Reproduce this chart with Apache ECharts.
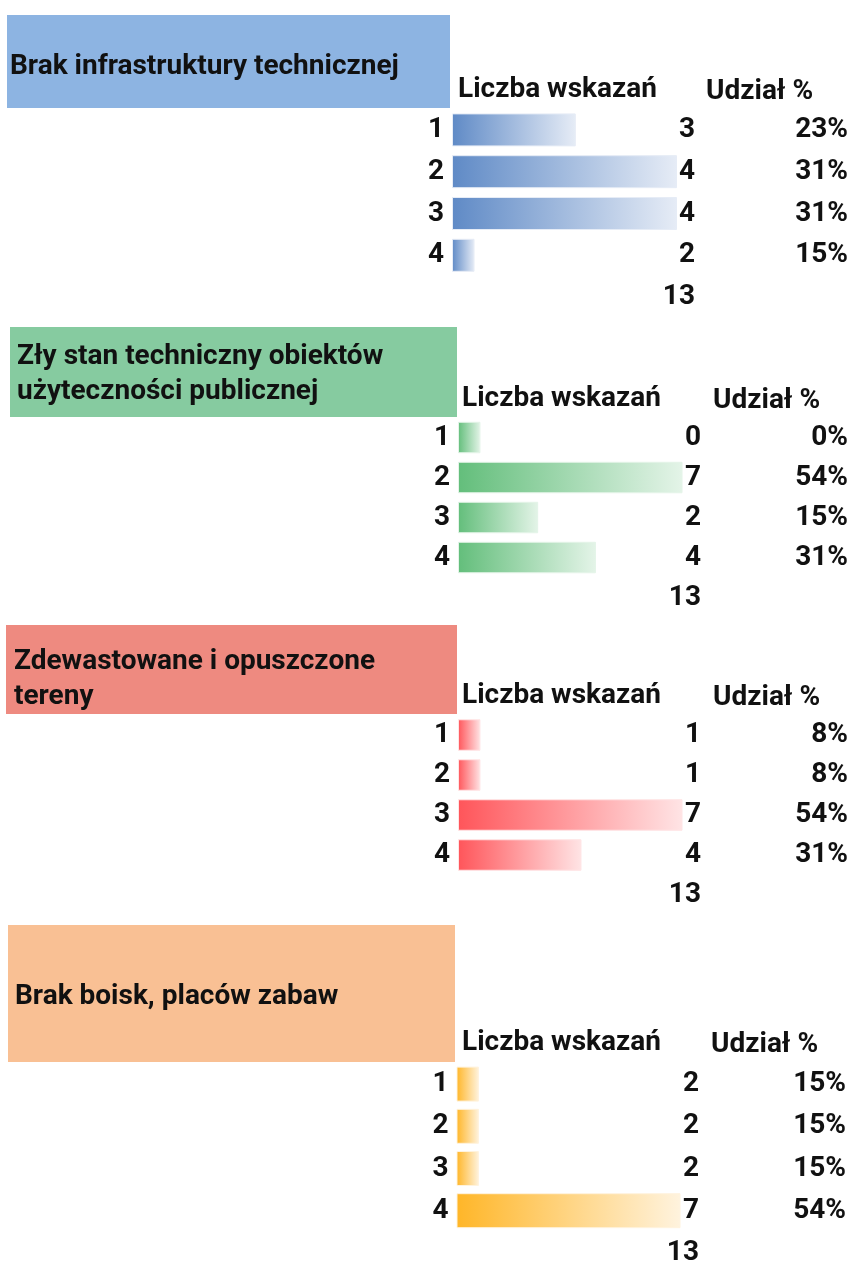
<!DOCTYPE html>
<html>
<head>
<meta charset="utf-8">
<script src="https://cdn.jsdelivr.net/npm/echarts@6/dist/echarts.min.js"></script>
<style>
  html, body { margin: 0; background: #fff; }
  #chart { width: 851px; height: 1274px; }
</style>
</head>
<body>
<div id="chart"></div>
<script>
const rows = ['1', '2', '3', '4']
const titles = [
  'Brak infrastruktury technicznej',
  'Zły stan techniczny obiektów\nużyteczności publicznej',
  'Zdewastowane i opuszczone\ntereny',
  'Brak boisk, placów zabaw'
]
const countHeader = 'Liczba wskazań'
const shareHeader = 'Udział %'
const countsInfra = [3, 4, 4, 2]
const countsBuildings = [0, 7, 2, 4]
const countsDevastated = [1, 1, 7, 4]
const countsPlaygrounds = [2, 2, 2, 7]
const allCounts = [countsInfra, countsBuildings, countsDevastated, countsPlaygrounds]

const font = 'Roboto'
const fontSize = 28

// layout of each block (header box, rows, columns)
const panels = [
  { box: [7, 15, 443, 93], fill: '#8DB4E2', bar: '#5F8AC6', end: '#E6ECF6', titleX: 10, titleY: 67,
    headY: 90, countX: 458, shareX: 706, left: 452, top: 109, rowH: 41.8, barH: 33, len: 225, numRight: 695, pctRight: 848 },
  { box: [10, 327, 447, 90], fill: '#86CBA0', bar: '#63BE7B', end: '#E4F4E8', titleX: 17, titleY: 374.5,
    headY: 399, countX: 462, shareX: 713, left: 458, top: 417.5, rowH: 40, barH: 31.5, len: 224.5, numRight: 701, pctRight: 848 },
  { box: [6, 625, 451, 89], fill: '#EE8A80', bar: '#FF555A', end: '#FFE4E5', titleX: 14, titleY: 679.5,
    headY: 696, countX: 462, shareX: 713, left: 458, top: 715, rowH: 40, barH: 31.5, len: 224.5, numRight: 701, pctRight: 848 },
  { box: [8, 925, 447, 137], fill: '#F9C094', bar: '#FFB628', end: '#FFF3DE', titleX: 15, titleY: 997,
    headY: 1043, countX: 462, shareX: 711, left: 456.5, top: 1063, rowH: 44, barH: 35, len: 224, numRight: 699, pctRight: 846 }
]

const textStyle = { fontFamily: font, fontSize: fontSize, fontWeight: 'bold', color: '#111' }

const grid = []
const xAxis = []
const yAxis = []
const series = []
const graphic = []

panels.forEach((p, i) => {
  const counts = allCounts[i]
  const total = counts.reduce((a, b) => a + b, 0)
  const shares = counts.map((v) => Math.round((v / total) * 100) + '%')
  const lo = Math.min(...counts)
  const hi = Math.max(...counts)
  // spreadsheet data bars: the lowest value keeps a tenth of the full length
  const base = lo - (hi - lo) / 9

  grid.push({ left: p.left, top: p.top, width: p.len, height: p.rowH * 5 })
  xAxis.push({ gridIndex: i, type: 'value', min: base, max: hi, startValue: base, show: false })
  yAxis.push({
    gridIndex: i, type: 'category', inverse: true, data: rows.concat(['']),
    axisLine: { show: false }, axisTick: { show: false },
    axisLabel: Object.assign({ margin: 8 }, textStyle)
  })
  yAxis.push({
    gridIndex: i, type: 'category', inverse: true, position: 'right', offset: p.numRight - p.left - p.len,
    data: counts.map(String).concat([String(total)]),
    axisLine: { show: false }, axisTick: { show: false },
    axisLabel: Object.assign({ margin: 0, align: 'right' }, textStyle)
  })
  yAxis.push({
    gridIndex: i, type: 'category', inverse: true, position: 'right', offset: p.pctRight - p.left - p.len,
    data: shares.concat(['']),
    axisLine: { show: false }, axisTick: { show: false },
    axisLabel: Object.assign({ margin: 0, align: 'right' }, textStyle)
  })
  series.push({
    type: 'bar', xAxisIndex: i, yAxisIndex: i * 3, data: counts, barWidth: p.barH,
    itemStyle: {
      color: new echarts.graphic.LinearGradient(0, 0, 1, 0, [
        { offset: 0, color: p.bar },
        { offset: 1, color: p.end }
      ]),
      borderColor: p.end, borderWidth: 1
    },
    silent: true
  })

  graphic.push({
    type: 'rect', shape: { x: p.box[0], y: p.box[1], width: p.box[2], height: p.box[3] },
    style: { fill: p.fill }, silent: true
  })
  graphic.push({
    type: 'text', x: p.titleX, y: p.titleY,
    style: { text: titles[i], font: 'bold ' + fontSize + 'px ' + font, fill: '#111', verticalAlign: 'middle', lineHeight: 35 }
  })
  graphic.push({
    type: 'text', x: p.countX, y: p.headY,
    style: { text: countHeader, font: 'bold ' + fontSize + 'px ' + font, fill: '#111', verticalAlign: 'middle' }
  })
  graphic.push({
    type: 'text', x: p.shareX, y: p.headY + 2,
    style: { text: shareHeader, font: 'bold ' + fontSize + 'px ' + font, fill: '#111', verticalAlign: 'middle' }
  })
})

const myChart = echarts.init(document.getElementById('chart'))
myChart.setOption({
  animation: false,
  grid: grid,
  xAxis: xAxis,
  yAxis: yAxis,
  series: series,
  graphic: graphic
})
window.addEventListener('resize', () => {
  myChart.resize()
})
</script>
</body>
</html>
